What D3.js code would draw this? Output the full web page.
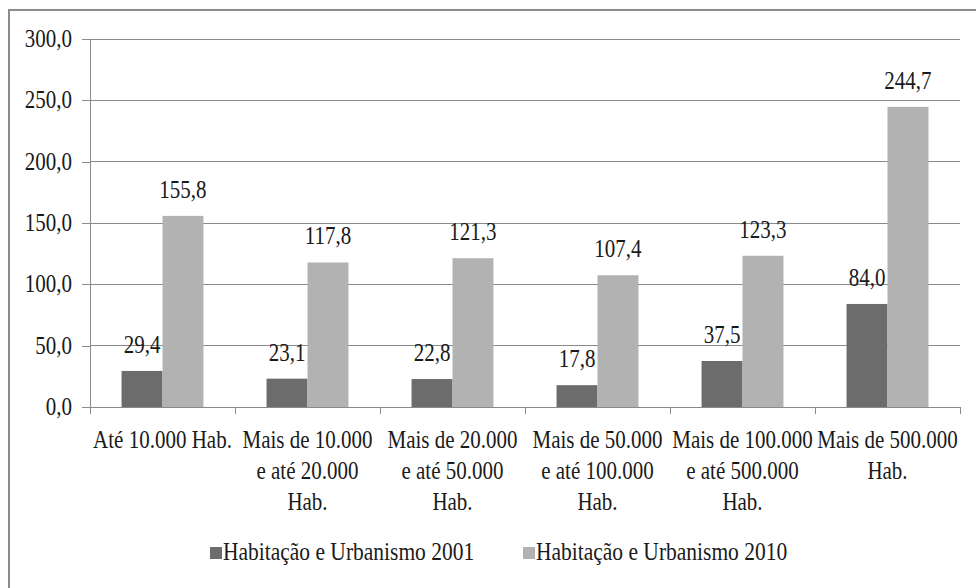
<!DOCTYPE html>
<meta charset="utf-8">
<style>
body {
  margin: 0;
  background-color: white;
}
.grid line {
  stroke: #8a8a8a;
  stroke-width: 1px;
  shape-rendering: crispEdges;
}
.axis path,
.axis line {
  stroke: #8a8a8a;
  stroke-width: 1px;
  shape-rendering: crispEdges;
}
</style>
<svg width="976" height="588"></svg>
<script src="https://d3js.org/d3.v7.min.js"></script>
<script>
// data
var categories = [
  ["Até 10.000 Hab."],
  ["Mais de 10.000", "e até 20.000", "Hab."],
  ["Mais de 20.000", "e até 50.000", "Hab."],
  ["Mais de 50.000", "e até 100.000", "Hab."],
  ["Mais de 100.000", "e até 500.000", "Hab."],
  ["Mais de 500.000", "Hab."]
];
var seriesNames = ["Habitação e Urbanismo 2001", "Habitação e Urbanismo 2010"];
var values2001 = [29.4, 23.1, 22.8, 17.8, 37.5, 84.0];
var values2010 = [155.8, 117.8, 121.3, 107.4, 123.3, 244.7];
var yTicks = [0, 50, 100, 150, 200, 250, 300];

var colors = ["#6c6c6c", "#b2b2b2"];
var stretch = "scale(1,1.2)";
var FONT = "'Liberation Serif'";

var svg = d3.select("svg"),
    margin = {top: 39, right: 16, bottom: 181, left: 90},
    width = 976 - margin.left - margin.right,
    height = 588 - margin.top - margin.bottom;

function styleText(sel) {
  sel.style("font-family", FONT)
     .style("font-size", "21px")
     .style("fill", "#1a1a1a");
}

// outer frame (clipped at right and bottom like the source)
svg.append("rect")
    .attr("x", 9).attr("y", 10)
    .attr("width", 1200).attr("height", 1200)
    .attr("fill", "none")
    .attr("stroke", "#8c8c8c")
    .attr("stroke-width", 2);

var g = svg.append("g")
    .attr("transform", "translate(" + margin.left + "," + margin.top + ")");

var idx = d3.range(categories.length);
var x0 = d3.scaleBand().domain(idx).range([0, width]).padding(0);
var x1 = d3.scaleBand().domain([0, 1]).range([0, x0.bandwidth()])
    .paddingInner(0).paddingOuter(0.77);
var y = d3.scaleLinear().domain([0, 300]).range([height, 0]);

var fmt = function(d) { return d.toFixed(1).replace(".", ","); };

// gridlines
g.append("g").attr("class", "grid")
  .selectAll("line")
  .data(yTicks.slice(1))
  .enter().append("line")
    .attr("x1", 0).attr("x2", width)
    .attr("y1", function(d) { return y(d); })
    .attr("y2", function(d) { return y(d); });

// y axis
var yAxis = g.append("g")
    .attr("class", "axis")
    .call(d3.axisLeft(y).tickValues(yTicks).tickSize(8).tickPadding(10).tickFormat(fmt))
    .attr("font-family", null)
    .attr("font-size", null);
yAxis.selectAll("text")
    .call(styleText)
    .attr("dy", "0.3em")
    .attr("transform", stretch);
yAxis.select(".domain").attr("d", "M0," + height + "V0");

// x axis line and boundary ticks
var xa = g.append("g").attr("class", "axis");
xa.append("line")
    .attr("x1", 0).attr("x2", width)
    .attr("y1", height).attr("y2", height);
xa.selectAll(".bt")
  .data(idx.concat([categories.length]))
  .enter().append("line")
    .attr("class", "bt")
    .attr("x1", function(i) { return i < categories.length ? x0(i) : x0(i - 1) + x0.bandwidth(); })
    .attr("x2", function(i) { return i < categories.length ? x0(i) : x0(i - 1) + x0.bandwidth(); })
    .attr("y1", height).attr("y2", height + 7);

// bars
var series = [values2001, values2010];
series.forEach(function(vals, s) {
  g.selectAll(".bar" + s)
    .data(vals)
    .enter().append("rect")
      .attr("class", "bar" + s)
      .attr("x", function(d, i) { return x0(i) + x1(s); })
      .attr("width", x1.bandwidth())
      .attr("y", function(d) { return y(d); })
      .attr("height", function(d) { return height - y(d); })
      .attr("fill", colors[s]);

  g.selectAll(".lab" + s)
    .data(vals)
    .enter().append("g")
      .attr("class", "lab" + s)
      .attr("transform", function(d, i) {
        return "translate(" + (x0(i) + x1(s) + x1.bandwidth() / 2) + "," + (y(d) - 18) + ")";
      })
    .append("text")
      .attr("text-anchor", "middle")
      .attr("transform", stretch)
      .call(styleText)
      .text(fmt);
});

// category labels
var cl = g.selectAll(".cat")
  .data(categories)
  .enter().append("g")
    .attr("class", "cat")
    .attr("transform", function(d, i) {
      return "translate(" + (x0(i) + x0.bandwidth() / 2) + "," + (height + 41) + ")";
    })
  .append("text")
    .attr("text-anchor", "middle")
    .attr("transform", stretch)
    .call(styleText);
cl.selectAll("tspan")
  .data(function(d) { return d; })
  .enter().append("tspan")
    .attr("x", 0)
    .attr("y", function(d, j) { return j * 25.8; })
    .text(function(d) { return d; });

// legend
var legendX = [210, 523];
var lg = svg.selectAll(".legend")
  .data(seriesNames)
  .enter().append("g")
    .attr("class", "legend")
    .attr("transform", function(d, i) { return "translate(" + legendX[i] + ",547)"; });
lg.append("rect")
    .attr("width", 12).attr("height", 12)
    .attr("fill", function(d, i) { return colors[i]; });
lg.append("text")
    .attr("x", 13).attr("y", 0)
    .attr("transform", "translate(0,13) " + stretch)
    .call(styleText)
    .style("font-size", "21.5px")
    .text(function(d) { return d; });
</script>
